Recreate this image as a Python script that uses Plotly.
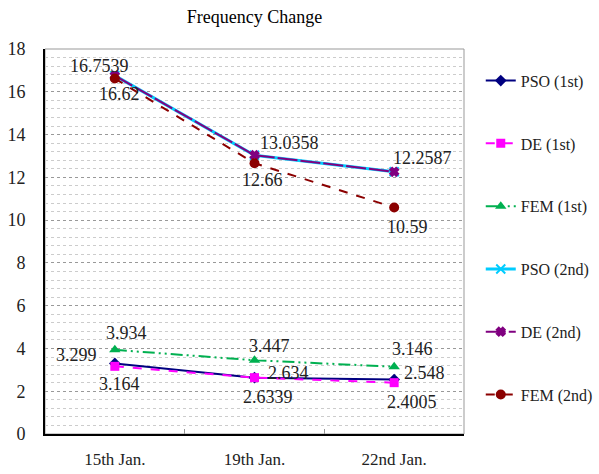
import plotly.graph_objects as go

categories = ["15th Jan.", "19th Jan.", "22nd Jan."]
pso_1st = [3.299, 2.634, 2.548]
de_1st = [3.164, 2.6339, 2.4005]
fem_1st = [3.934, 3.447, 3.146]
pso_2nd = [16.7539, 13.0358, 12.2587]
de_2nd = [16.7539, 13.0358, 12.2587]
fem_2nd = [16.62, 12.66, 10.59]
y_ticks = [0, 2, 4, 6, 8, 10, 12, 14, 16, 18]

series = [
    ("PSO (1st)", pso_1st, "#000080", "solid", "diamond", 9, 2),
    ("DE (1st)", de_1st, "#FF00FF", "dash", "square", 9, 2),
    ("FEM (1st)", fem_1st, "#00B050", "12px,4px,2px,4px,2px,4px", "triangle-up", 10, 2),
    ("PSO (2nd)", pso_2nd, "#00CCFF", "solid", "x-thin-open", 9, 3),
    ("DE (2nd)", de_2nd, "#800080", "20px,3px", "x", 7, 2),
    ("FEM (2nd)", fem_2nd, "#8B0000", "dash", "circle", 10, 2),
]

# label offsets (series index, point index, xshift, yshift)
label_offsets = [
    (4, 0, -15, 10), (4, 1, 35, 12), (4, 2, 28, 14),
    (5, 0, 5, -15), (5, 1, 8, -17), (5, 2, 13, -20),
    (2, 0, 12, 17), (2, 1, 15, 14), (2, 2, 18, 18),
    (0, 0, -38, 8), (0, 1, 34, 5), (0, 2, 30, 7),
    (1, 0, 5, -18), (1, 1, 13, -19), (1, 2, 18, -19),
]

FONT = "Liberation Serif"
fig = go.Figure()
for i, (name, vals, color, dash, sym, msize, lw) in enumerate(series):
    fig.add_trace(go.Scatter(
        x=categories, y=vals, name=name, mode="lines+markers",
        line=dict(color=color, width=lw, dash=dash),
        marker=dict(symbol=sym, size=msize, color=color,
                    line=dict(color=color, width=2 if "x" in sym else 0)),
        legendgroup=name,
    ))

for si, pi, dx, dy in label_offsets:
    v = series[si][1][pi]
    fig.add_annotation(x=categories[pi], y=v, text=str(v), showarrow=False,
                       xshift=dx, yshift=dy,
                       font=dict(family=FONT, size=18, color="#222"))

fig.add_shape(type="rect", xref="paper", yref="paper", x0=0, x1=1, y0=0, y1=1,
              line=dict(color="#999", width=1), layer="below")

fig.update_layout(
    width=599, height=474,
    margin=dict(l=45, r=135, t=49, b=40, autoexpand=False),
    paper_bgcolor="white", plot_bgcolor="white",
    title=dict(text="Frequency Change", x=(45 + 464) / 2 / 599, xanchor="center",
               y=1 - 17 / 474, yanchor="middle",
               font=dict(family=FONT, size=18, color="#000")),
    font=dict(family=FONT, size=16, color="#222"),
    legend=dict(x=1.04, xanchor="left", y=0.962, yanchor="top",
                font=dict(family=FONT, size=16, color="#222"),
                tracegroupgap=39, itemwidth=30, bgcolor="rgba(0,0,0,0)"),
    showlegend=True,
)
fig.update_xaxes(type="category", range=[-0.5, 2.5], showline=True,
                 linecolor="black", linewidth=2, showgrid=False,
                 tickson="boundaries", ticks="inside", ticklen=5,
                 tickcolor="#999", ticklabelstandoff=9, automargin=False,
                 tickfont=dict(family=FONT, size=17, color="#222"))
fig.update_yaxes(range=[0, 18], tickvals=y_ticks, showline=True,
                 linecolor="black", linewidth=2, ticks="", zeroline=False,
                 showgrid=True, gridcolor="#999", griddash="dot", gridwidth=1,
                 minor=dict(dtick=0.4, showgrid=True, gridcolor="#ccc",
                            griddash="dot", gridwidth=1),
                 ticklabelstandoff=14, automargin=False,
                 tickfont=dict(family=FONT, size=18, color="#222"))

fig.write_html("out.html")
